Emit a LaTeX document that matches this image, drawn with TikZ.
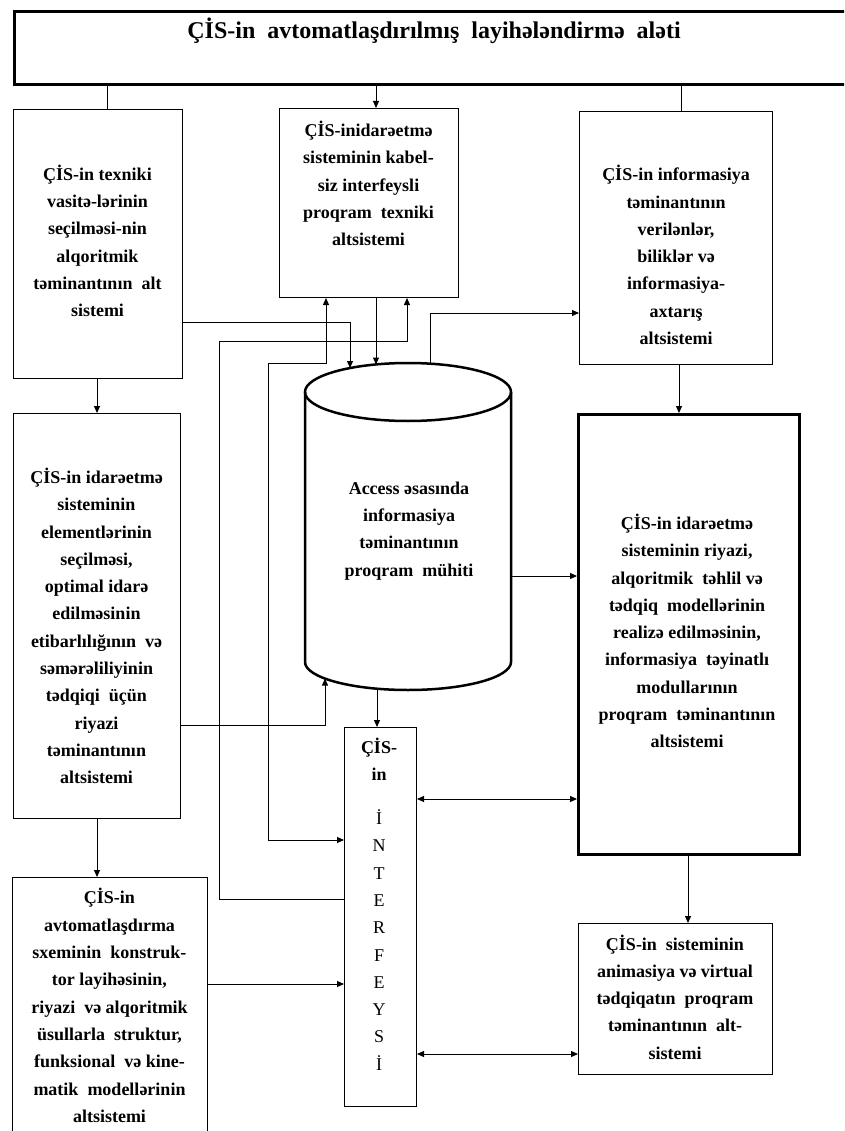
\documentclass[tikz,border=0pt]{standalone}
\usepackage{fontspec}
\setmainfont{Liberation Serif}
\usetikzlibrary{arrows.meta}
\begin{document}
\begin{tikzpicture}[x=1pt,y=-1pt,
  box/.style={draw, line width=1pt, inner sep=0pt, anchor=north west},
  thickbox/.style={box, line width=3pt},
  txt/.style={font=\fontsize{18}{27.3}\selectfont\bfseries, align=center, inner sep=0pt},
  conn/.style={line width=1pt, -{Triangle[length=7pt,width=6pt]}},
  biconn/.style={line width=1pt, {Triangle[length=7pt,width=6pt]}-{Triangle[length=7pt,width=6pt]}},
  plainline/.style={line width=1pt},
  cyl/.style={line width=2.5pt}]
\useasboundingbox (0,0) rectangle (844,1131);
\fill[white] (0,0) rectangle (844,1131);
\clip (0,0) rectangle (844,1131);

% boxes
\node[thickbox, minimum width=843pt, minimum height=73pt] (title) at (13,10) {};
\node[font=\fontsize{24}{28}\selectfont\bfseries, inner sep=0pt] (titletext) at (434,31) {ÇİS-in\ \ avtomatlaşdırılmış\ \ layihələndirmə\ \ aləti};
\node[box, minimum width=169pt, minimum height=269pt] (b1) at (13,109) {};
\node[box, minimum width=179pt, minimum height=189pt] (mid) at (279,108) {};
\node[box, minimum width=193pt, minimum height=253pt] (rtop) at (579,111) {};
\node[box, minimum width=167pt, minimum height=405pt] (b2) at (13,413) {};
\node[thickbox, minimum width=221pt, minimum height=440pt] (big) at (577,413) {};
\node[box, minimum width=72pt, minimum height=379pt] (intf) at (344,727) {};
\node[box, minimum width=195pt, minimum height=280pt] (b3) at (12,877) {};
\node[box, minimum width=194pt, minimum height=151pt] (brb) at (578,923) {};

% cylinder
\draw[cyl] (305,392) -- (305,662) arc[start angle=180, end angle=360, x radius=103pt, y radius=28pt] -- (511,392);
\draw[cyl] (408,392) ellipse[x radius=103pt, y radius=29pt];
\coordinate (cT350) at (350,368);
\coordinate (cT376) at (376,364.5);
\coordinate (cT430) at (430,364);
\coordinate (cB325) at (325,678.6);
\coordinate (cB377) at (377,688.7);
\coordinate (cR) at (511,576);

% texts
\node[txt] (b1t) at (97.5,241) {ÇİS-in texniki\\vasitə-lərinin\\seçilməsi-nin\\alqoritmik\\təminantının\ \ alt\\sistemi};
\node[txt] (midt) at (368.5,183.5) {ÇİS-inidarəetmə\\sisteminin kabel-\\siz interfeysli\\proqram\ \ texniki\\altsistemi};
\node[txt] (rtopt) at (676,255) {ÇİS-in informasiya\\təminantının\\verilənlər,\\biliklər və\\informasiya-\\axtarış\\altsistemi};
\node[txt] (b2t) at (96.5,626) {ÇİS-in idarəetmə\\sisteminin\\elementlərinin\\seçilməsi,\\optimal idarə\\edilməsinin\\etibarlılığının\ \ və\\səmərəliliyinin\\tədqiqi\ \ üçün\\riyazi\\təminantının\\altsistemi};
\node[txt] (cylt) at (409,531) {Access əsasında\\informasiya\\təminantının\\proqram\ \ mühiti};
\node[txt] (bigt) at (687,631) {ÇİS-in idarəetmə\\sisteminin riyazi,\\alqoritmik\ \ təhlil və\\tədqiq\ \ modellərinin\\realizə edilməsinin,\\informasiya\ \ təyinatlı\\modullarının\\proqram\ \ təminantının\\altsistemi};
\node[txt] (brbt) at (675,997) {ÇİS-in\ \ sisteminin\\animasiya və virtual\\tədqiqatın\ \ proqram\\təminantının\ \ alt-\\sistemi};
\node[txt] (b3t) at (109.5,1005.5) {ÇİS-in\\avtomatlaşdırma\\sxeminin\ \ konstruk-\\tor layihəsinin,\\riyazi\ \ və alqoritmik\\üsullarla\ \ struktur,\\funksional\ \ və kine-\\matik\ \ modellərinin\\altsistemi};
\node[txt] (intft1) at (379,759.5) {ÇİS-\\in};
\node[txt, font=\fontsize{18}{27.3}\selectfont] (intft2) at (379,940) {İ\\N\\T\\E\\R\\F\\E\\Y\\S\\İ};

% connectors
\draw[plainline] (title.south -| 107,0) -- (b1.north -| 107,0);
\draw[conn] (title.south -| 376,0) -- (mid.north -| 376,0);
\draw[plainline] (title.south -| 681,0) -- (rtop.north -| 681,0);
\draw[conn] (b1.east |- 0,322) -| (cT350);
\draw[conn] (mid.south -| 376,0) -- (cT376);
\draw[conn] (intf.west |- 0,899) -| (219,341) -| (mid.south -| 407,0);
\draw[biconn] (mid.south -| 326,0) |- (268,363) |- (intf.west |- 0,840);
\draw[conn] (cT430) |- (rtop.west |- 0,313);
\draw[conn] (rtop.south -| 679,0) -- (big.north -| 679,0);
\draw[conn] (b1.south -| 97,0) -- (b2.north -| 97,0);
\draw[conn] (b2.east |- 0,725) -| (cB325);
\draw[conn] (cB377) -- (intf.north -| 377,0);
\draw[conn] (cR) -- (big.west |- 0,576);
\draw[biconn] (intf.east |- 0,799) -- (big.west |- 0,799);
\draw[conn] (b2.south -| 97,0) -- (b3.north -| 97,0);
\draw[conn] (b3.east |- 0,984) -- (intf.west |- 0,984);
\draw[conn] (big.south -| 688,0) -- (brb.north -| 688,0);
\draw[biconn] (intf.east |- 0,1054) -- (brb.west |- 0,1054);
\end{tikzpicture}
\end{document}
